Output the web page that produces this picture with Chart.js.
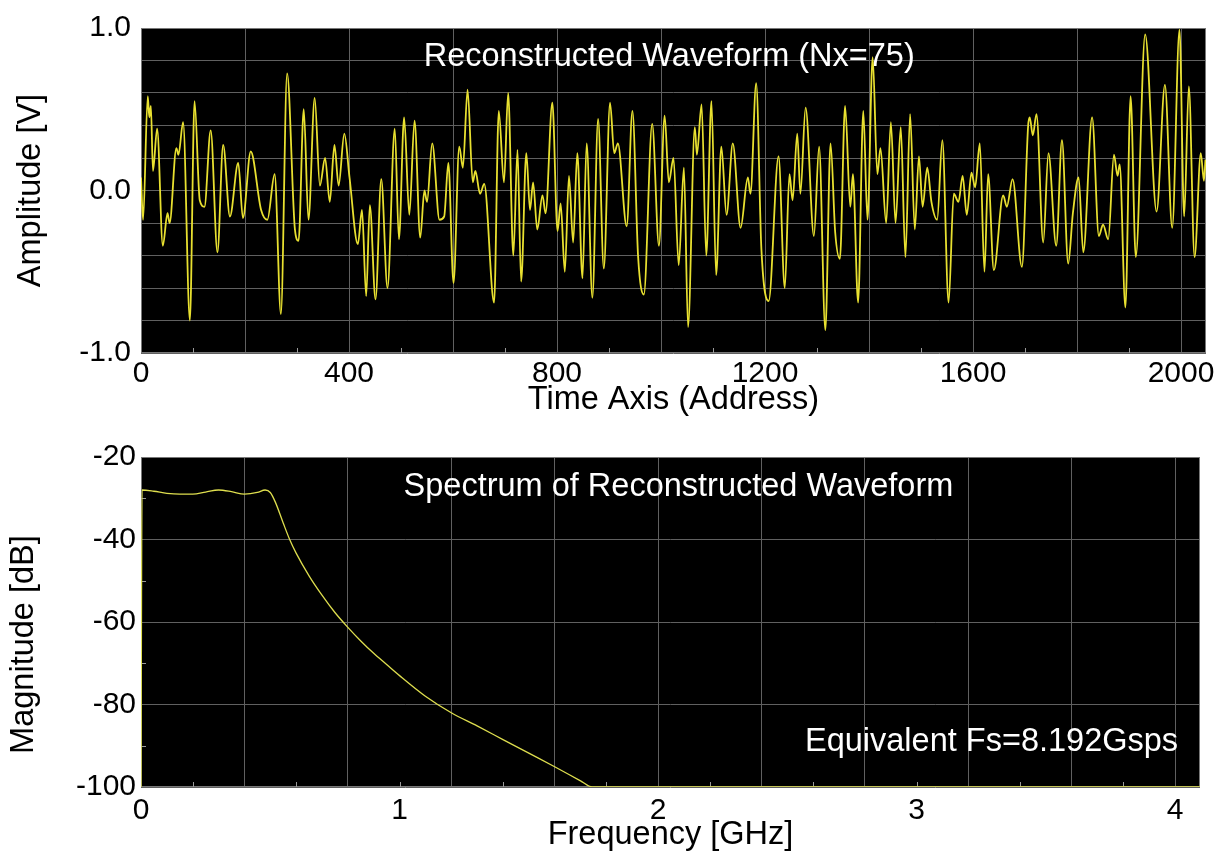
<!DOCTYPE html>
<html>
<head>
<meta charset="utf-8">
<script src="https://cdn.jsdelivr.net/npm/chart.js@4.4.1/dist/chart.umd.min.js"></script>
<style>
  html, body { margin: 0; padding: 0; background: #fff; }
  #wrap { position: relative; width: 1225px; height: 855px; }
  canvas { position: absolute; left: 0; }
  #wave { top: 0; }
  #spec { top: 420px; }
</style>
</head>
<body>
<div id="wrap">
  <canvas id="wave" width="1225" height="420"></canvas>
  <canvas id="spec" width="1225" height="435"></canvas>
</div>
<script>
// waveform extrema: sample address / amplitude (V)
const waveAddr = [
  0, 4, 13, 16, 19, 23, 31, 42, 51, 55, 68, 72, 81, 94, 103, 113, 122, 134, 147, 158,
  171, 187, 196, 211, 231, 243, 257, 269, 281, 296, 303, 313, 322, 334, 344, 354, 363, 372, 380, 391,
  401, 417, 425, 433, 440, 451, 462, 474, 488, 496, 506, 516, 526, 537, 545, 550, 560, 574, 583, 591,
  601, 612, 619, 628, 638, 643, 652, 660, 679, 688, 698, 706, 716, 724, 731, 741, 748, 754, 762, 772,
  778, 791, 801, 807, 815, 823, 831, 839, 849, 857, 868, 879, 890, 902, 910, 917, 934, 945, 956, 967,
  983, 996, 1007, 1015, 1024, 1034, 1044, 1052, 1065, 1069, 1078, 1087, 1097, 1106, 1116, 1126, 1138, 1153, 1167, 1172,
  1183, 1193, 1207, 1226, 1238, 1247, 1253, 1262, 1268, 1278, 1294, 1304, 1316, 1326, 1335, 1344, 1354, 1364, 1369, 1379,
  1389, 1397, 1407, 1416, 1422, 1433, 1442, 1451, 1461, 1470, 1479, 1488, 1496, 1503, 1512, 1520, 1531, 1541, 1553, 1563,
  1572, 1580, 1588, 1597, 1604, 1613, 1622, 1629, 1640, 1658, 1665, 1676, 1694, 1706, 1709, 1715, 1722, 1735, 1745, 1760,
  1771, 1783, 1792, 1803, 1812, 1829, 1842, 1850, 1860, 1871, 1878, 1882, 1893, 1903, 1913, 1931, 1953, 1969, 1983, 1997,
  2006, 2015, 2026, 2038, 2044, 2047
];
const waveAmp = [
  0.08, -0.18, 0.58, 0.45, 0.52, 0.12, 0.38, -0.34, -0.14, -0.2, 0.26, 0.22, 0.42, -0.8, 0.55, -0.06, -0.1, 0.37, -0.38, 0.28,
  -0.16, 0.17, -0.17, 0.24, -0.12, -0.18, 0.1, -0.76, 0.72, -0.24, -0.31, 0.5, -0.18, 0.57, 0.03, 0.2, -0.07, 0.28, 0.03, 0.35,
  0.08, -0.33, -0.12, -0.65, -0.09, -0.67, 0.07, -0.6, 0.38, -0.3, 0.45, -0.15, 0.43, -0.29, 0.0, -0.07, 0.29, -0.18, -0.16, 0.17,
  -0.57, 0.27, 0.14, 0.62, 0.05, 0.12, -0.02, 0.04, -0.69, 0.49, 0.05, 0.6, -0.4, 0.25, -0.56, 0.23, -0.12, 0.05, -0.24, -0.03,
  -0.14, 0.54, -0.25, -0.08, -0.5, 0.09, -0.32, 0.23, -0.54, 0.29, -0.66, 0.44, -0.48, 0.54, 0.23, 0.29, -0.22, 0.49, -0.41, -0.64,
  0.41, -0.34, 0.46, 0.05, 0.2, -0.46, 0.14, -0.84, 0.39, 0.22, 0.53, -0.4, 0.55, -0.52, 0.27, -0.15, 0.29, -0.23, 0.08, -0.02,
  0.66, -0.36, -0.68, 0.21, -0.6, 0.1, -0.06, 0.35, -0.02, 0.51, -0.28, 0.27, -0.86, 0.29, -0.26, -0.42, 0.52, -0.1, 0.1, -0.69,
  0.49, -0.18, 0.82, 0.1, 0.26, -0.2, 0.42, -0.2, 0.39, -0.41, 0.47, -0.24, 0.21, -0.1, 0.14, -0.07, -0.18, 0.31, -0.69, -0.02,
  -0.07, 0.09, -0.15, 0.11, 0.02, 0.29, -0.5, 0.1, -0.49, -0.03, -0.1, 0.07, -0.47, 0.4, 0.45, 0.34, 0.47, -0.32, 0.23, -0.34,
  0.31, -0.45, -0.14, 0.08, -0.38, 0.45, -0.28, -0.21, -0.3, 0.22, 0.09, 0.16, -0.72, 0.58, -0.41, 0.96, -0.13, 0.65, -0.23, 0.99,
  -0.16, 0.64, -0.41, 0.23, 0.06, 0.19
];

// spectrum: frequency (GHz) / magnitude (dB)
const specFreq = [0, 0.004, 0.05, 0.1, 0.15, 0.2, 0.25, 0.3, 0.35, 0.4, 0.45, 0.48, 0.5, 0.52, 0.55, 0.575,
  0.6, 0.65, 0.7, 0.75, 0.8, 0.85, 0.9, 0.95, 1.0, 1.1, 1.2, 1.3, 1.4, 1.5, 1.6, 1.7, 1.745, 4.096];
const specMag = [-100, -28, -28.3, -28.8, -29, -29, -28.5, -28, -28.4, -29, -28.6, -28, -28.6, -31, -36, -40,
  -43.3, -48.8, -53.5, -57.7, -61.3, -64.6, -67.6, -70.3, -73, -78, -82, -85.2, -88.5, -91.8, -95.1, -98.5, -100, -100];

const timeTicks = [0, 400, 800, 1200, 1600, 2000];
const ampTicks = [-1, 0, 1];
const freqTicks = [0, 1, 2, 3, 4];
const magTicks = [-100, -80, -60, -40, -20];

const FONT = "'Liberation Sans', Arial, sans-serif";
const GRID = '#606060';
const FRAME = '#787878';

function onStep(v, step) {
  const r = v / step;
  return Math.abs(r - Math.round(r)) < 1e-6;
}

// black plot area, frame, small inner ticks and the white captions
const scopePlot = {
  id: 'scopePlot',
  beforeDraw(chart) {
    const { ctx, chartArea: a } = chart;
    ctx.save();
    ctx.fillStyle = '#000';
    ctx.fillRect(a.left, a.top, a.width, a.height);
    ctx.restore();
  },
  beforeDatasetsDraw(chart, args, opts) {
    const { ctx, chartArea: a, scales } = chart;
    ctx.save();
    ctx.strokeStyle = FRAME;
    ctx.lineWidth = 1;
    ctx.strokeRect(a.left + 0.5, a.top + 0.5, a.width - 1, a.height - 1);

    ctx.strokeStyle = '#9a9a9a';
    ctx.beginPath();
    scales.x.ticks.forEach(t => {
      if (onStep(t.value, opts.majorX)) return;
      const px = Math.round(scales.x.getPixelForValue(t.value)) + 0.5;
      ctx.moveTo(px, a.bottom);
      ctx.lineTo(px, a.bottom - 5);
    });
    scales.y.ticks.forEach(t => {
      if (onStep(t.value, opts.majorY)) return;
      const py = Math.round(scales.y.getPixelForValue(t.value)) + 0.5;
      ctx.moveTo(a.left, py);
      ctx.lineTo(a.left + 5, py);
    });
    ctx.stroke();

    ctx.fillStyle = '#fff';
    ctx.font = `32.5px ${FONT}`;
    ctx.textBaseline = 'middle';
    opts.captions.forEach(c => {
      ctx.textAlign = c.align;
      ctx.fillText(c.text, a.left + c.fx * a.width, a.top + c.fy * a.height);
    });
    ctx.restore();
  }
};

const tickFont = { family: FONT, size: 30 };
const titleFont = { family: FONT, size: 32.5 };

function gridColor(step) {
  return ctx => onStep(ctx.tick.value, step) ? GRID : 'rgba(0,0,0,0)';
}

new Chart(document.getElementById('wave'), {
  type: 'line',
  data: {
    datasets: [{
      data: waveAddr.map((x, i) => ({ x, y: waveAmp[i] })),
      borderColor: '#e8e030',
      borderWidth: 1.8,
      pointRadius: 0,
      cubicInterpolationMode: 'monotone',
      fill: false,
    }],
  },
  options: {
    responsive: false,
    animation: false,
    events: [],
    layout: { padding: { top: 23, right: 19, left: 0, bottom: 0 } },
    plugins: {
      legend: { display: false },
      tooltip: { enabled: false },
      scopePlot: {
        majorX: 200,
        majorY: 0.2,
        captions: [{ text: 'Reconstructed Waveform (Nx=75)', fx: 0.496, fy: 0.088, align: 'center' }],
      },
    },
    scales: {
      x: {
        type: 'linear',
        min: 0,
        max: 2048,
        afterFit: s => { s.height = 67; },
        border: { display: false },
        grid: { color: gridColor(200), drawTicks: false },
        ticks: {
          stepSize: 100, includeBounds: false, autoSkip: false, maxRotation: 0, padding: 3,
          color: '#000', font: tickFont,
          callback: v => timeTicks.includes(v) ? String(v) : '',
        },
        title: { display: true, text: 'Time Axis (Address)', color: '#000', font: titleFont, padding: { top: 0, bottom: 0 } },
      },
      y: {
        min: -1,
        max: 1,
        afterFit: s => { s.width = 141; },
        border: { display: false },
        grid: { color: gridColor(0.2), drawTicks: false },
        ticks: {
          stepSize: 0.2, autoSkip: false, padding: 10, color: '#000', font: tickFont,
          callback: v => ampTicks.includes(v) ? v.toFixed(1) : '',
        },
        title: { display: true, text: 'Amplitude [V]', color: '#000', font: titleFont, padding: { top: 12, bottom: 0 } },
      },
    },
  },
  plugins: [scopePlot],
});

new Chart(document.getElementById('spec'), {
  type: 'line',
  data: {
    datasets: [{
      data: specFreq.map((x, i) => ({ x, y: specMag[i] })),
      borderColor: '#dede4e',
      borderWidth: 1.3,
      pointRadius: 0,
      cubicInterpolationMode: 'monotone',
      fill: false,
    }],
  },
  options: {
    responsive: false,
    animation: false,
    events: [],
    layout: { padding: { top: 37, right: 25, left: 0, bottom: 0 } },
    plugins: {
      legend: { display: false },
      tooltip: { enabled: false },
      scopePlot: {
        majorX: 0.4,
        majorY: 20,
        captions: [
          { text: 'Spectrum of Reconstructed Waveform', fx: 0.5075, fy: 0.091, align: 'center' },
          { text: 'Equivalent Fs=8.192Gsps', fx: 0.627, fy: 0.863, align: 'left' },
        ],
      },
    },
    scales: {
      x: {
        type: 'linear',
        min: 0,
        max: 4.096,
        afterFit: s => { s.height = 68; },
        border: { display: false },
        grid: { color: gridColor(0.4), drawTicks: false },
        ticks: {
          stepSize: 0.2, includeBounds: false, autoSkip: false, maxRotation: 0, padding: 6,
          color: '#000', font: tickFont,
          callback: v => freqTicks.includes(v) ? String(v) : '',
        },
        title: { display: true, text: 'Frequency [GHz]', color: '#000', font: titleFont, padding: { top: 0, bottom: 0 } },
      },
      y: {
        min: -100,
        max: -20,
        afterFit: s => { s.width = 141; },
        border: { display: false },
        grid: { color: gridColor(20), drawTicks: false },
        ticks: {
          stepSize: 10, autoSkip: false, padding: 5, color: '#000', font: tickFont,
          callback: v => magTicks.includes(v) ? String(v) : '',
        },
        title: {
          display: true, text: 'Magnitude [dB]\u00a0\u00a0\u00a0\u00a0\u00a0', color: '#000', font: titleFont,
          padding: { top: 5, bottom: 0 },
        },
      },
    },
  },
  plugins: [scopePlot],
});
</script>
</body>
</html>
